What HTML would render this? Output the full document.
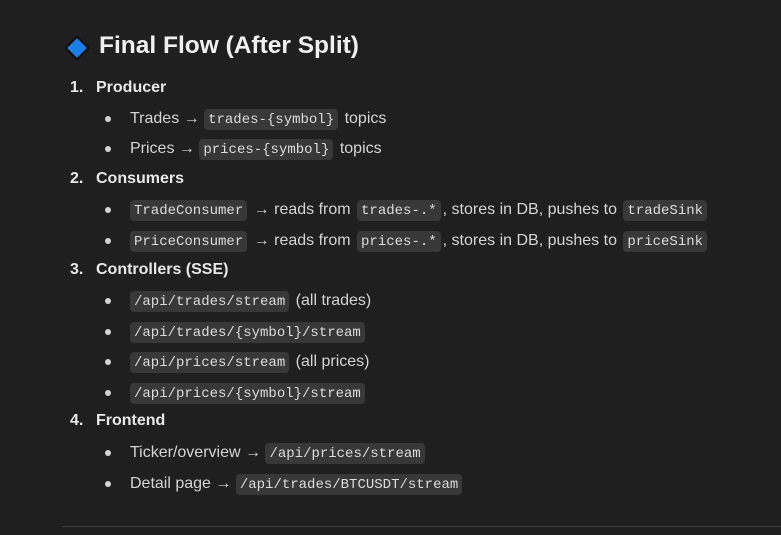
<!DOCTYPE html>
<html><head><meta charset="utf-8"><style>
html,body{margin:0;padding:0;background:#1f1f1f;width:781px;height:535px;overflow:hidden;position:relative}
body{font-family:"Liberation Sans",sans-serif;color:#d4d4d4;font-size:16px}
.l{position:absolute;left:0;height:24px;line-height:24px;white-space:nowrap}
.n{position:absolute;left:70px;font-weight:bold;color:#e8e8e8}
.h{position:absolute;left:96px;font-weight:bold;color:#e8e8e8}
.b{position:absolute;left:105px;top:10px;width:6px;height:6px;border-radius:50%;background:#d4d4d4}
.t{position:absolute;left:130px;top:1px;white-space:pre}
code{font-family:"Liberation Mono",monospace;font-size:14px;background:#383838;color:#dcdcdc;border-radius:4px;padding:3px 4px 2px;line-height:18px;margin:0 2px}
.t>code:first-child{margin-left:0}
.title{position:absolute;left:99px;top:32px;font-size:24.5px;font-weight:bold;color:#f0f0f0}
.dia{position:absolute;left:68px;top:39px;width:14px;height:14px;background:#1a7ee6;border:2px solid #0b0b0b;border-radius:2px;transform:rotate(45deg)}
hr{position:absolute;left:62px;top:526px;width:719px;margin:0;border:0;border-top:1px solid #3c3c3c}
</style></head><body>
<div class="dia"></div>
<div class="title">Final Flow (After Split)</div>

<div class="l" style="top:76px"><span class="n">1.</span><span class="h">Producer</span></div>
<div class="l" style="top:106px"><span class="b"></span><span class="t">Trades → <code>trades-{symbol}</code> topics</span></div>
<div class="l" style="top:136px"><span class="b"></span><span class="t">Prices → <code>prices-{symbol}</code> topics</span></div>

<div class="l" style="top:167px"><span class="n">2.</span><span class="h">Consumers</span></div>
<div class="l" style="top:197px"><span class="b"></span><span class="t"><code>TradeConsumer</code> → reads from <code>trades-.*</code>, stores in DB, pushes to <code>tradeSink</code></span></div>
<div class="l" style="top:228px"><span class="b"></span><span class="t"><code>PriceConsumer</code> → reads from <code>prices-.*</code>, stores in DB, pushes to <code>priceSink</code></span></div>

<div class="l" style="top:258px"><span class="n">3.</span><span class="h">Controllers (SSE)</span></div>
<div class="l" style="top:288px"><span class="b"></span><span class="t"><code>/api/trades/stream</code> (all trades)</span></div>
<div class="l" style="top:319px"><span class="b"></span><span class="t"><code>/api/trades/{symbol}/stream</code></span></div>
<div class="l" style="top:349px"><span class="b"></span><span class="t"><code>/api/prices/stream</code> (all prices)</span></div>
<div class="l" style="top:380px"><span class="b"></span><span class="t"><code>/api/prices/{symbol}/stream</code></span></div>

<div class="l" style="top:409px"><span class="n">4.</span><span class="h">Frontend</span></div>
<div class="l" style="top:440px"><span class="b"></span><span class="t">Ticker/overview → <code>/api/prices/stream</code></span></div>
<div class="l" style="top:471px"><span class="b"></span><span class="t">Detail page → <code>/api/trades/BTCUSDT/stream</code></span></div>
<hr>
</body></html>
